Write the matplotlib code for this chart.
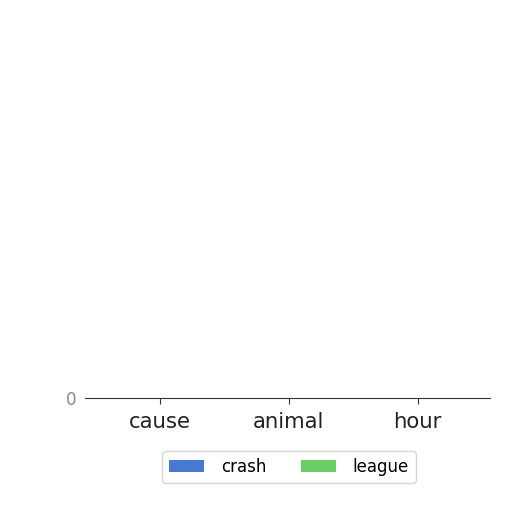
import matplotlib
matplotlib.use("Agg")
import matplotlib.pyplot as plt
import numpy as np

categories = ["cause", "animal", "hour"]
crash = [0, 0, 0]
league = [0, 0, 0]
series_names = ["crash", "league"]
colors = ["#4878d0", "#6acc64"]

fig = plt.figure(figsize=(5.12, 5.12), dpi=100)
ax = fig.add_axes([85/512, 1 - 398/512, 405/512, 0.74])

x = np.arange(len(categories))
w = 0.38
ax.bar(x - w/2, crash, w, color=colors[0], label=series_names[0])
ax.bar(x + w/2, league, w, color=colors[1], label=series_names[1])

ax.set_xlim(-0.58, 2.56)
ax.set_ylim(0, 1)
ax.set_yticks([0])
ax.set_yticklabels(["0"], color="#888888", fontsize=12)
ax.tick_params(axis="y", length=0, pad=6)
ax.set_xticks(x)
ax.set_xticklabels(categories, fontsize=15.3, color="#222222")
ax.tick_params(axis="x", length=4, color="#333333", pad=6)
for s in ["top", "right", "left"]:
    ax.spines[s].set_visible(False)
ax.spines["bottom"].set_color("#333333")

leg = fig.legend(loc="center", bbox_to_anchor=(289/512, 1 - 467/512), ncol=2,
                 fontsize=12, frameon=True, handlelength=2.1, handletextpad=1.0,
                 columnspacing=2.1, edgecolor="#cccccc")
fig.savefig("out.png", dpi=100, facecolor="white")
